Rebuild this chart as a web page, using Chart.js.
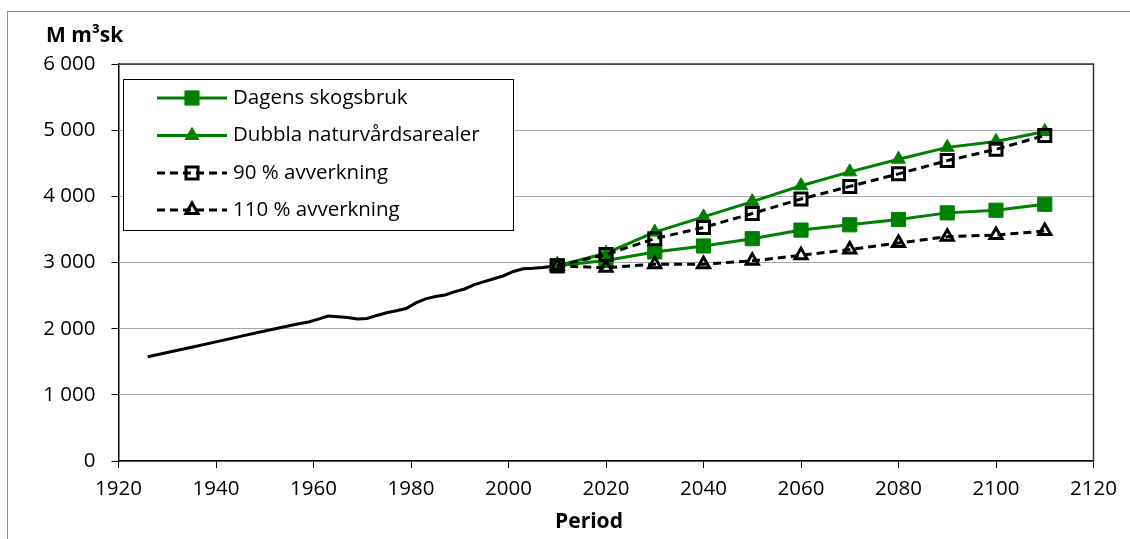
<!DOCTYPE html>
<html><head><meta charset="utf-8">
<script src="https://cdn.jsdelivr.net/npm/chart.js@4/dist/chart.umd.min.js"></script>
<style>html,body{margin:0;padding:0;background:#fff;overflow:hidden}#wrap{width:1130px;height:539px;position:relative}</style>
</head><body><div id="wrap"><canvas id="c" width="1130" height="539"></canvas></div>
<script>
// ---- data ----
const histYears  = [1926,1930,1935,1940,1945,1950,1955,1957,1959,1961,1963,1965,1967,1969,1971,1973,1975,1977,1979,1981,1983,1985,1987,1989,1991,1993,1995,1997,1999,2001,2003,2005,2007,2010];
const histValues = [1575,1640,1720,1800,1883,1964,2045,2075,2100,2145,2190,2180,2170,2145,2155,2200,2240,2270,2305,2390,2450,2485,2510,2560,2600,2665,2710,2755,2800,2865,2905,2912,2925,2950];
const projYears  = [2010,2020,2030,2040,2050,2060,2070,2080,2090,2100,2110];
const dagens     = [2950,3030,3160,3250,3360,3490,3570,3650,3750,3790,3880];
const dubbla     = [2950,3140,3460,3690,3920,4160,4370,4560,4740,4830,4980];
const avv90      = [2950,3120,3360,3530,3740,3960,4150,4340,4540,4710,4920];
const avv110     = [2950,2920,2975,2975,3025,3110,3195,3295,3390,3415,3475];
const seriesNames = ['Dagens skogsbruk','Dubbla naturvårdsarealer','90 % avverkning','110 % avverkning'];
const xTickValues = [1920,1940,1960,1980,2000,2020,2040,2060,2080,2100,2120];
const yTickValues = [0,1000,2000,3000,4000,5000,6000];
const yTitle = 'M m³sk';
const xTitle = 'Period';

// ---- styles ----
const FONT = '"Open Sans", Lato, sans-serif';
const GREEN = '#008000';
function pts(xs, ys){ return xs.map((x,i)=>({x:x, y:ys[i]})); }
function fmt(v){ return String(v).replace(/\B(?=(\d{3})+(?!\d))/g,' '); }

const datasets = [
  {label:'hist', data:pts(histYears,histValues), borderColor:'#000', borderWidth:3, pointRadius:0, order:5},
  {label:seriesNames[0], data:pts(projYears,dagens), borderColor:GREEN, backgroundColor:GREEN, borderWidth:3,
   pointStyle:'rect', pointRadius:10, pointBackgroundColor:GREEN, pointBorderColor:GREEN, pointBorderWidth:1, order:4},
  {label:seriesNames[1], data:pts(projYears,dubbla), borderColor:GREEN, backgroundColor:GREEN, borderWidth:3,
   pointStyle:'triangle', pointRadius:8, pointBackgroundColor:GREEN, pointBorderColor:GREEN, pointBorderWidth:1, order:3},
  {label:seriesNames[2], data:pts(projYears,avv90), borderColor:'#000', borderWidth:3, borderDash:[8,5],
   pointStyle:'rect', pointRadius:8.5, pointBackgroundColor:'rgba(0,0,0,0)', pointBorderColor:'#000', pointBorderWidth:3, order:2},
  {label:seriesNames[3], data:pts(projYears,avv110), borderColor:'#000', borderWidth:3, borderDash:[8,5],
   pointStyle:'triangle', pointRadius:7, pointBackgroundColor:'rgba(0,0,0,0)', pointBorderColor:'#000', pointBorderWidth:3, order:1}
];

function marker(ctx, style, r, x, y, fill, stroke, bw){
  ctx.save();
  ctx.beginPath();
  if (style==='rect'){ const s=Math.SQRT1_2*r; ctx.rect(x-s,y-s,2*s,2*s); }
  else { ctx.moveTo(x, y-r); ctx.lineTo(x+Math.sin(2*Math.PI/3)*r, y+r/2); ctx.lineTo(x-Math.sin(2*Math.PI/3)*r, y+r/2); ctx.closePath(); }
  ctx.fillStyle=fill; ctx.fill();
  ctx.lineWidth=bw; ctx.strokeStyle=stroke; ctx.stroke();
  ctx.restore();
}

const decor = {
  id:'decor',
  beforeDraw(chart){
    const ctx=chart.ctx; ctx.save();
    ctx.fillStyle='#fff'; ctx.fillRect(0,0,chart.width,chart.height);
    ctx.strokeStyle='#8c8c8c'; ctx.lineWidth=1; ctx.strokeRect(7.5,11.5,1300,700);
    ctx.restore();
  },
  afterDraw(chart){
    const ctx=chart.ctx, a=chart.chartArea;
    ctx.save();
    ctx.strokeStyle='#333'; ctx.lineWidth=1.5;
    ctx.beginPath(); ctx.moveTo(a.left,a.top); ctx.lineTo(a.right,a.top); ctx.lineTo(a.right,a.bottom); ctx.stroke();
    ctx.fillStyle='#000'; ctx.font='bold 21px '+FONT; ctx.textBaseline='middle';
    ctx.textAlign='left'; ctx.fillText(yTitle,46,36);
    ctx.textAlign='center'; ctx.fillText(xTitle,589,522);
    // legend
    const lx=123.5, ly=79.5, lw=390, lh=151;
    ctx.fillStyle='#fff'; ctx.fillRect(lx,ly,lw,lh);
    ctx.strokeStyle='#000'; ctx.lineWidth=1; ctx.strokeRect(lx,ly,lw,lh);
    const rows=[98,135.5,173,210];
    for (let i=0;i<4;i++){
      const ds=chart.data.datasets[i+1], y=rows[i];
      ctx.save();
      ctx.strokeStyle=ds.borderColor; ctx.lineWidth=ds.borderWidth; ctx.setLineDash(ds.borderDash||[]);
      ctx.beginPath(); ctx.moveTo(157,y); ctx.lineTo(227,y); ctx.stroke();
      ctx.setLineDash([]);
      ctx.restore();
      marker(ctx, ds.pointStyle, ds.pointRadius, 192, y, ds.pointBackgroundColor, ds.pointBorderColor, ds.pointBorderWidth);
      ctx.fillStyle='#000'; ctx.font='20.5px '+FONT; ctx.textAlign='left'; ctx.textBaseline='middle';
      ctx.fillText(ds.label, 233, y);
    }
    ctx.restore();
  }
};

new Chart(document.getElementById('c'), {
  type:'line',
  data:{datasets:datasets},
  options:{
    responsive:false, animation:false, devicePixelRatio:1,
    layout:{padding:{top:64,right:36.5,left:0,bottom:0}},
    plugins:{legend:{display:false}, tooltip:{enabled:false}},
    elements:{line:{tension:0}},
    scales:{
      x:{type:'linear', min:1920, max:2120,
         afterBuildTicks:s=>{s.ticks=xTickValues.map(v=>({value:v}));},
         afterFit:s=>{s.height=78;},
         grid:{drawOnChartArea:false, tickLength:7, tickColor:'#000', tickWidth:1},
         border:{color:'#000', width:1.5},
         ticks:{color:'#000', font:{family:FONT,size:20.5}, padding:9, maxRotation:0, callback:v=>String(v)}},
      y:{type:'linear', min:0, max:6000,
         afterBuildTicks:s=>{s.ticks=yTickValues.map(v=>({value:v}));},
         afterFit:s=>{s.width=118.5;},
         grid:{color:'#a6a6a6', tickLength:7, tickColor:'#000', lineWidth:1},
         border:{color:'#000', width:1.5},
         ticks:{color:'#000', font:{family:FONT,size:20.5}, padding:16, callback:v=>fmt(v)}}
    }
  },
  plugins:[decor]
});
</script></body></html>
